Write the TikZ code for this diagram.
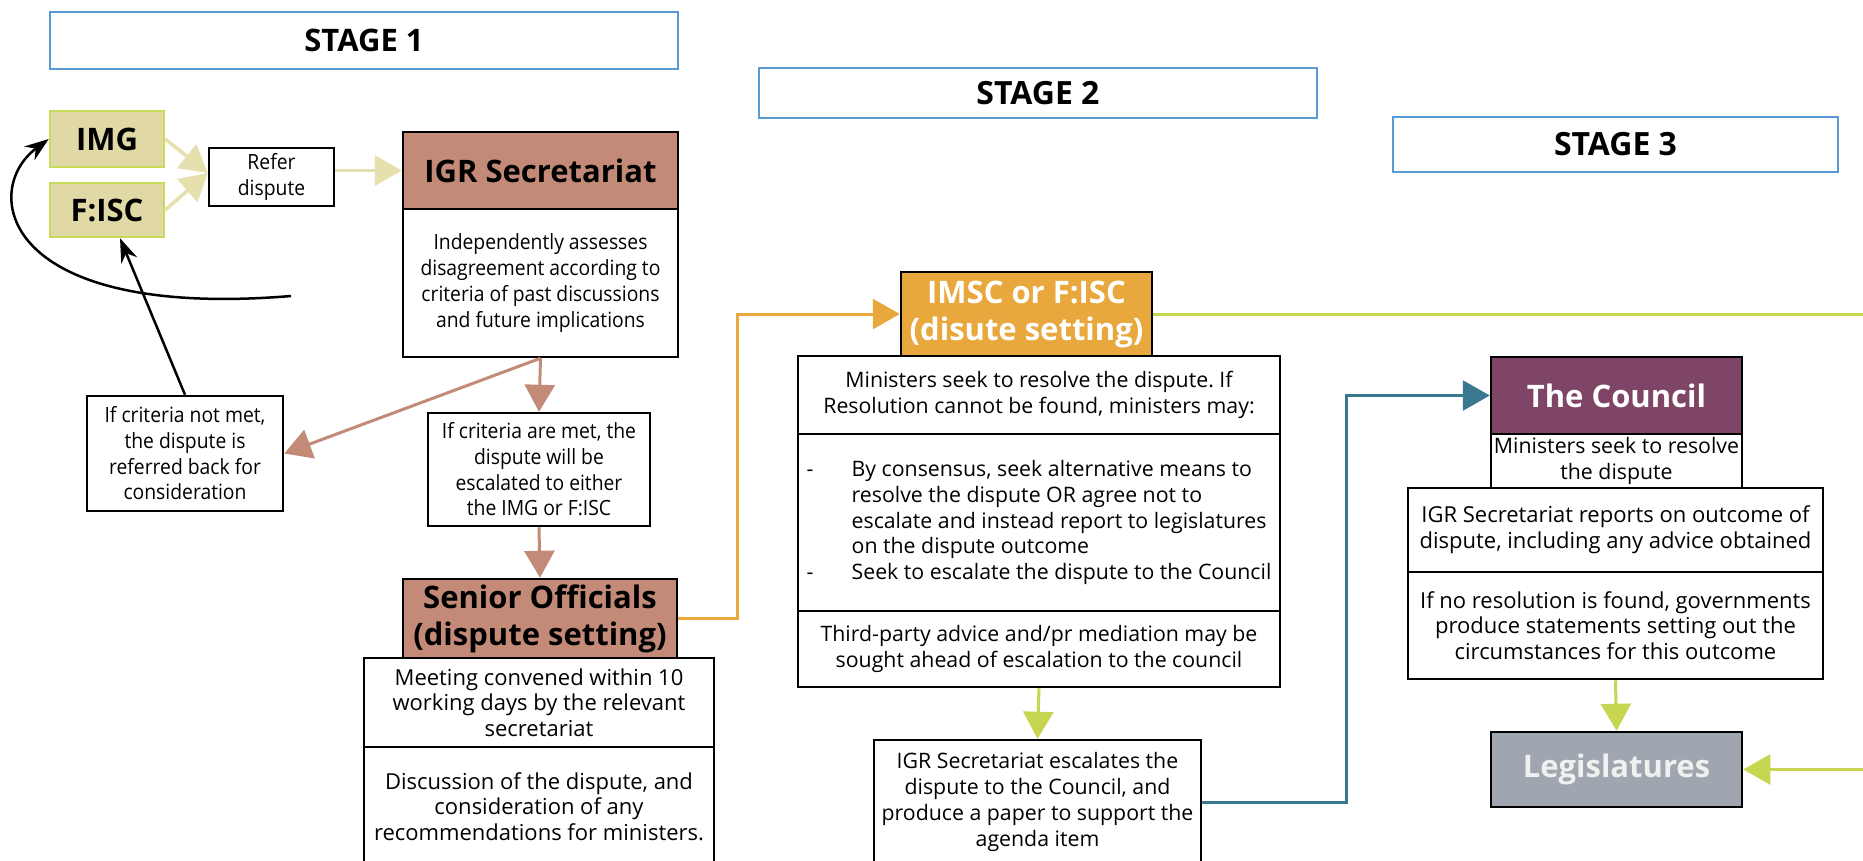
\documentclass[tikz,border=0pt]{standalone}
\usepackage{fontspec}
\setmainfont{Open Sans}
\newfontfamily\condfont{Open Sans}[FakeStretch=0.92]
\usetikzlibrary{arrows.meta,calc}
\definecolor{stageblue}{HTML}{5B9BD5}
\definecolor{khakifill}{HTML}{E0D9A6}
\definecolor{limeborder}{HTML}{C9D95A}
\definecolor{khakiarrow}{HTML}{E6DFAE}
\definecolor{cbrown}{HTML}{C38B77}
\definecolor{corange}{HTML}{E8A83E}
\definecolor{clime}{HTML}{C6D650}
\definecolor{cteal}{HTML}{3A7890}
\definecolor{cplum}{HTML}{7F4567}
\definecolor{cgrey}{HTML}{A0A6AF}
\newcommand\bodyf{\frenchspacing\fontsize{21.3}{25.7}\selectfont}
\newcommand\bodyc{\frenchspacing\condfont\fontsize{21}{25.7}\selectfont}
\newcommand\bodys{\frenchspacing\fontsize{22}{25.7}\selectfont}
\newcommand\hdrf{\fontsize{31}{37}\selectfont\bfseries}
\newcommand\stagef{\fontsize{32}{38}\selectfont\bfseries}
\tikzset{
  box/.style={draw=black, line width=2.5pt, fill=white, inner sep=0pt, align=center, font=\bodyf},
  stagebox/.style={draw=stageblue, line width=2.5pt, fill=white, inner sep=0pt, font=\stagef},
  hdr/.style={draw=black, line width=2.5pt, inner sep=0pt, align=center, font=\hdrf},
  gbox/.style={draw=limeborder, line width=2.5pt, fill=khakifill, inner sep=0pt, font=\hdrf},
  conn/.style={line width=3pt, -{Triangle[length=27pt,width=30pt]}},
  blk/.style={line width=2.5pt, black, -{Stealth[length=24pt,width=17pt]}},
}
\begin{document}
\begin{tikzpicture}[x=1pt,y=-1pt]
\useasboundingbox (0,0) rectangle (1863,860);
\clip (0,0) rectangle (1863,860);
\fill[white] (0,0) rectangle (1863,860);

% stage labels
\node[stagebox, font=\fontsize{31}{37}\selectfont\bfseries, minimum width=628pt, minimum height=57pt] (s1) at (364,40.5) {STAGE 1};
\node[stagebox, minimum width=558pt, minimum height=50pt] (s2) at (1038,93) {STAGE 2};
\node[stagebox, minimum width=445pt, minimum height=55pt] (s3) at (1615.5,144.5) {STAGE 3};

% stage 1
\node[gbox, minimum width=114pt, minimum height=56pt] (img) at (107,139) {IMG};
\node[gbox, minimum width=114pt, minimum height=54pt] (fisc) at (107,210) {F:ISC};
\node[box, font=\bodyc, minimum width=125pt, minimum height=58pt] (refer) at (271.5,177) {Refer\\dispute};
\node[hdr, fill=cbrown, minimum width=275pt, minimum height=77pt] (igrh) at (540.5,170.5) {IGR Secretariat};
\node[box, font=\bodyc, minimum width=275pt, minimum height=148pt] (igrb) at (540.5,283) {Independently assesses\\disagreement according to\\criteria of past discussions\\and future implications};
\node[box, font=\bodyc, minimum width=196pt, minimum height=115pt] (notmet) at (185,453.5) {If criteria not met,\\the dispute is\\referred back for\\consideration};
\node[box, font=\bodyc, minimum width=222pt, minimum height=113pt] (met) at (539,469.5) {If criteria are met, the\\dispute will be\\escalated to either\\the IMG or F:ISC};
\node[hdr, fill=cbrown, minimum width=274pt, minimum height=79pt] (senh) at (540,618.5) {Senior Officials\\(dispute setting)};
\node[box, font=\bodys, minimum width=350pt, minimum height=89pt] (senb1) at (539,702.5) {Meeting convened within 10\\working days by the relevant\\secretariat};
\node[box, font=\bodys, minimum width=350pt, minimum height=119pt] (senb2) at (539,806.5) {Discussion of the dispute, and\\consideration of any\\recommendations for ministers.};

% stage 2
\node[hdr, fill=corange, text=white, minimum width=251pt, minimum height=84pt] (imsch) at (1026.5,314) {IMSC or F:ISC\\(disute setting)};
\node[box, minimum width=482pt, minimum height=78pt] (imscb1) at (1039,395) {Ministers seek to resolve the dispute. If\\Resolution cannot be found, ministers may:};
\node[box, minimum width=482pt, minimum height=177pt, align=left] (imscb2) at (1039,522.5) {\makebox[45pt][l]{-}By consensus, seek alternative means to\\\hspace*{45pt}resolve the dispute OR agree not to\\\hspace*{45pt}escalate and instead report to legislatures\\\hspace*{45pt}on the dispute outcome\\\makebox[45pt][l]{-}Seek to escalate the dispute to the Council};
\node[box, minimum width=482pt, minimum height=76pt] (imscb3) at (1039,649) {Third-party advice and/pr mediation may be\\sought ahead of escalation to the council};
\node[box, minimum width=327pt, minimum height=124pt] (esc) at (1037.5,802) {IGR Secretariat escalates the\\dispute to the Council, and\\produce a paper to support the\\agenda item};

% stage 3
\node[hdr, fill=cplum, text=white, minimum width=251pt, minimum height=77pt] (council) at (1616.5,395.5) {The Council};
\node[box, minimum width=251pt, minimum height=54pt] (councilsub) at (1616.5,461) {Ministers seek to resolve\\the dispute};
\node[box, font=\bodys, minimum width=415pt, minimum height=84pt] (cb1) at (1615.5,530) {IGR Secretariat reports on outcome of\\dispute, including any advice obtained};
\node[box, font=\bodys, minimum width=415pt, minimum height=107pt] (cb2) at (1615.5,625.5) {If no resolution is found, governments\\produce statements setting out the\\circumstances for this outcome};
\node[hdr, fill=cgrey, text=white!94!black, minimum width=251pt, minimum height=75pt] (leg) at (1616.5,769.5) {Legislatures};

% connectors stage 1
\draw[conn, line width=3.5pt, khakiarrow] (img.east) -- ([yshift=4pt]refer.west);
\draw[conn, line width=3.5pt, khakiarrow] (fisc.east) -- ([yshift=4pt]refer.west);
\draw[conn, line width=3.5pt, khakiarrow] (refer.east |- igrh.west) -- (igrh.west);
\draw[conn, cbrown] (igrb.south) -- (met.north);
\draw[conn, cbrown] (igrb.south) -- (notmet.east);
\draw[conn, cbrown] (met.south) -- (senh.north);
\coordinate (loopstart) at (291,296);
\draw[blk] (loopstart) .. controls (0,320) and (-20,190) .. (img.west);
\draw[blk] (notmet.north) -- ([xshift=13pt]fisc.south);

% stage 1 -> 2
\draw[conn, corange] (senh.east) -- ($(senh.east)+(59,0)$) |- (imsch.west);
\draw[conn, clime] (imscb3.south) -- (esc.north);
\draw[conn, cteal] (esc.east) -- ($(esc.east)+(144,0)$) |- (council.west);
\draw[conn, clime] (imsch.east) -- (2000,314) -- (2000,769.5) -- (leg.east);
\draw[conn, clime] (cb2.south) -- (leg.north);
\end{tikzpicture}
\end{document}
